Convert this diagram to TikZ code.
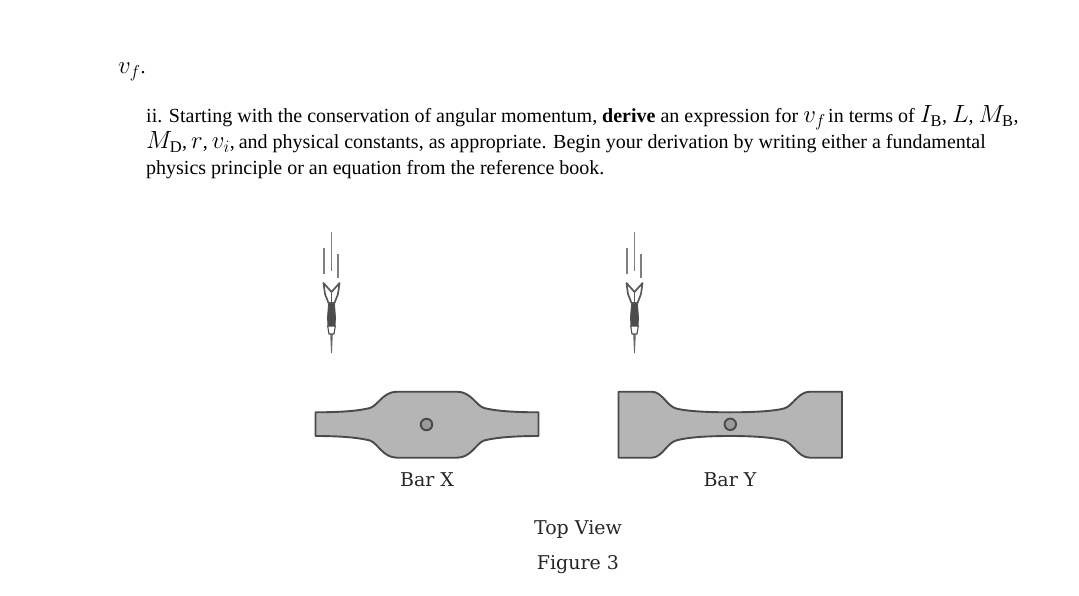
\documentclass[tikz,border=0pt]{standalone}
\usepackage{fontspec}
\setmainfont{Liberation Serif}
\newfontfamily\labfont{DejaVu Serif}
\definecolor{barfill}{HTML}{B5B5B5}
\definecolor{barline}{HTML}{4A4A4A}
\definecolor{holefill}{HTML}{9A9A9E}
\definecolor{dartdark}{HTML}{4C4C4C}
\newcommand{\mth}[1]{{\fontsize{23.4}{24}\selectfont$#1$}}
\tikzset{
  bodytext/.style={anchor=base west,inner sep=0pt,font=\fontsize{20}{24}\selectfont},
  figlabel/.style={anchor=base,inner sep=0pt,font=\labfont\fontsize{19}{22}\selectfont,text=black!85},
  barshape/.style={fill=barfill,draw=barline,line width=1.9pt,line join=round},
  hole/.style={circle,minimum size=11.5pt,inner sep=0pt,fill=holefill,draw=barline,line width=1.9pt},
  dartline/.style={draw=black!50,line width=1.6pt},
  fletch/.style={draw=black!65,line width=1.7pt,line join=round},
  pics/dartpic/.style={code={
    \draw[dartline] (0,-64) -- (0,-25);
    \draw[dartline] (-7.5,-48) -- (-7.5,-22);
    \draw[dartline] (6.5,-42) -- (6.5,-18);
    \draw[fletch] (-8,-13) -- (-6.5,-2) -- (-3,7) -- (3,7) -- (6.5,-2) -- (8,-13) -- (0,-4) -- cycle;
    \draw[fletch] (0,-4) -- (0,7);
    \draw[fill=dartdark,draw=black!70,line width=.8pt] (-3,8) -- (3,8) -- (4,22) -- (3.5,30) -- (-3.5,30) -- (-4,22) -- cycle;
    \draw[draw=black!70,line width=1.1pt,fill=white] (-3.8,30) -- (3.8,30) -- (2.5,38) -- (-2.5,38) -- cycle;
    \fill[black!60] (-1.3,38) -- (1.3,38) -- (0.4,57) -- (-0.4,57) -- cycle;
  }}
}
\begin{document}
\begin{tikzpicture}[x=1pt,y=-1pt]
\useasboundingbox (0,0) rectangle (1079,596);
\node[bodytext] (vf) at (118,74) {\mth{v_f}.};
\node[bodytext] (l1) at (146,122.5) {ii. Starting with the conservation of angular momentum, \textbf{derive} an expression for \mth{v_f}\kern-2.5pt{} in terms of \mth{I_{\mathrm{B}}}, \mth{L}, \mth{M_{\mathrm{B}}},};
\node[bodytext] (l2) at (146,148.5) {\mth{M_{\mathrm{D}}},\kern-1pt{} \mth{r},\kern-1pt{} \mth{v_i},\kern-1pt{} and physical constants, as appropriate. Begin your derivation by writing either a fundamental};
\node[bodytext] (l3) at (146,174.5) {physics principle or an equation from the reference book.};
\pic at (331.5,296) {dartpic};
\pic at (634.5,296) {dartpic};
\draw[barshape] (315.5,412.3)
  .. controls (340,412.3) and (358,411) .. (370,408)
  .. controls (378,405.5) and (383,391.7) .. (397,391.7)
  -- (457,391.7)
  .. controls (471,391.7) and (476,405.5) .. (484,408)
  .. controls (496,411) and (514,412.3) .. (538.5,412.3)
  -- (538.5,436)
  .. controls (514,436) and (496,437.5) .. (484,440.5)
  .. controls (476,443.5) and (471,457.7) .. (457,457.7)
  -- (397,457.7)
  .. controls (383,457.7) and (378,443.5) .. (370,440.5)
  .. controls (358,437.5) and (340,436) .. (315.5,436)
  -- cycle;
\node[hole] (hx) at (426.5,424.5) {};
\draw[barshape] (618.5,391.7) -- (651.7,391.7)
  .. controls (662,391.7) and (667,406) .. (676,408.5)
  .. controls (688,411.5) and (710,412.3) .. (730,412.3)
  .. controls (750,412.3) and (772,411.5) .. (784,408.5)
  .. controls (793,406) and (798,391.7) .. (810,391.7)
  -- (842,391.7) -- (842,457.7) -- (810,457.7)
  .. controls (798,457.7) and (793,443) .. (784,440.5)
  .. controls (772,437) and (750,436) .. (730,436)
  .. controls (710,436) and (688,437) .. (676,440.5)
  .. controls (667,443) and (662,457.7) .. (651.7,457.7)
  -- (618.5,457.7) -- cycle;
\node[hole] (hy) at (730.3,424.3) {};
\node[figlabel] (bx) at (427,486) {Bar X};
\node[figlabel] (by) at (730,486) {Bar Y};
\node[figlabel] (tv) at (578,534) {Top View};
\node[figlabel] (f3) at (578,569) {Figure 3};
\end{tikzpicture}
\end{document}
